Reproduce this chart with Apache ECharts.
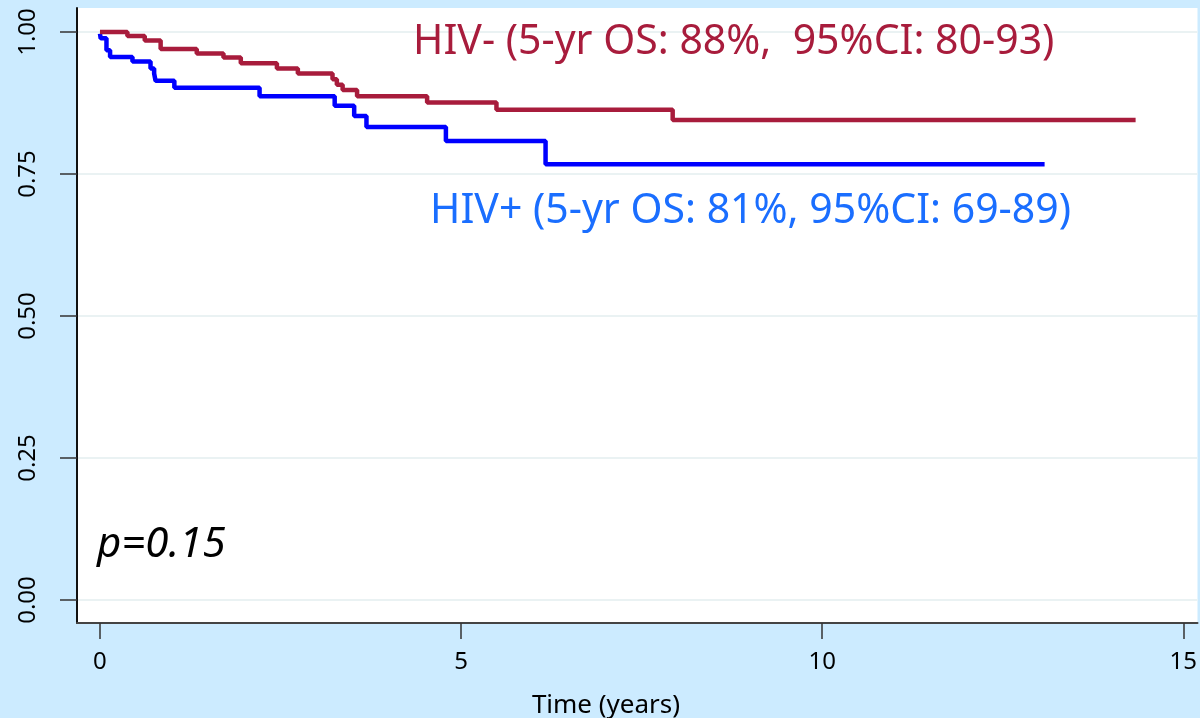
<!DOCTYPE html>
<html>
<head>
<meta charset="utf-8">
<script src="https://cdn.jsdelivr.net/npm/echarts@6/dist/echarts.min.js"></script>
<style>
html,body{margin:0;padding:0;background:#ccebff;}
#chart{width:1200px;height:718px;}
</style>
</head>
<body>
<div id="chart"></div>
<script>
// Kaplan-Meier step data (time in years, survival probability)
const hivNegTime = [0, 0.38, 0.62, 0.84, 1.34, 1.71, 1.95, 2.45, 2.74, 3.22, 3.28, 3.36, 3.56, 4.53, 5.49, 7.93, 14.34];
const hivNegSurv = [1.0, 0.993, 0.985, 0.970, 0.962, 0.955, 0.945, 0.936, 0.927, 0.917, 0.907, 0.898, 0.887, 0.876, 0.863, 0.845, 0.845];
const hivPosTime = [0, 0.01, 0.09, 0.14, 0.45, 0.70, 0.75, 0.77, 1.03, 2.21, 3.25, 3.52, 3.69, 4.79, 6.17, 13.08];
const hivPosSurv = [0.997, 0.989, 0.968, 0.956, 0.948, 0.936, 0.927, 0.914, 0.902, 0.887, 0.870, 0.852, 0.833, 0.808, 0.767, 0.767];
const xTicks = [0, 5, 10, 15];
const yTicks = [0, 0.25, 0.5, 0.75, 1];
const hivNegLabel = 'HIV- (5-yr OS: 88%,  95%CI: 80-93)';
const hivPosLabel = 'HIV+ (5-yr OS: 81%, 95%CI: 69-89)';
const pLabel = 'p=0.15';
const xTitle = 'Time (years)';

const FONT = '"Noto Sans", "Open Sans", sans-serif';
const chart = echarts.init(document.getElementById('chart'));
const zip = (a, b) => a.map((v, i) => [v, b[i]]);

chart.setOption({
  backgroundColor: '#ccebff',
  animation: false,
  grid: {left: 77, right: 0, top: 8, bottom: 95, show: true, backgroundColor: '#ffffff', borderWidth: 0},
  xAxis: {
    type: 'value', min: -0.318, max: 15.197,
    axisLine: {show: true, onZero: false, lineStyle: {color: '#444', width: 2}},
    axisTick: {show: true, length: 16, customValues: xTicks, lineStyle: {color: '#333', width: 1.5}},
    axisLabel: {customValues: xTicks, margin: 27, fontSize: 24, color: '#000', fontFamily: FONT, formatter: v => String(v)},
    splitLine: {show: false}
  },
  yAxis: {
    type: 'value', min: -0.0405, max: 1.0423,
    axisLine: {show: true, onZero: false, lineStyle: {color: '#111', width: 2}},
    axisTick: {show: true, length: 17, customValues: yTicks, lineStyle: {color: '#333', width: 1.5}},
    axisLabel: {customValues: yTicks, rotate: 90, margin: 37, fontSize: 24, color: '#000', fontFamily: FONT, formatter: v => v.toFixed(2)},
    splitLine: {show: false}
  },
  series: [
    {
      type: 'line', silent: true, data: [], symbol: 'none', z: 0,
      markLine: {silent: true, z: 0, symbol: 'none', label: {show: false},
        lineStyle: {color: '#eaf2f3', width: 2, type: 'solid'},
        data: yTicks.map(v => ({yAxis: v}))}
    },
    {
      name: 'HIV+', type: 'line', step: 'end', symbol: 'none', z: 3,
      lineStyle: {color: '#0000ff', width: 4.5},
      data: zip(hivPosTime, hivPosSurv)
    },
    {
      name: 'HIV-', type: 'line', step: 'end', symbol: 'none', z: 4,
      lineStyle: {color: '#a81c3c', width: 4.5},
      data: zip(hivNegTime, hivNegSurv)
    }
  ],
  graphic: [
    {type: 'text', x: 413, y: 42, z: 10, style: {text: hivNegLabel, fill: '#a81c3c', font: '41px ' + FONT, align: 'left', verticalAlign: 'middle'}},
    {type: 'text', x: 430, y: 211, z: 10, style: {text: hivPosLabel, fill: '#1a6eff', font: '41px ' + FONT, align: 'left', verticalAlign: 'middle'}},
    {type: 'text', x: 97, y: 545, z: 10, style: {text: pLabel, fill: '#000', font: 'italic 42px ' + FONT, align: 'left', verticalAlign: 'middle'}},
    {type: 'text', x: 606, y: 706, z: 10, style: {text: xTitle, fill: '#000', font: '26px ' + FONT, align: 'center', verticalAlign: 'middle'}}
  ]
});
</script>
</body>
</html>
